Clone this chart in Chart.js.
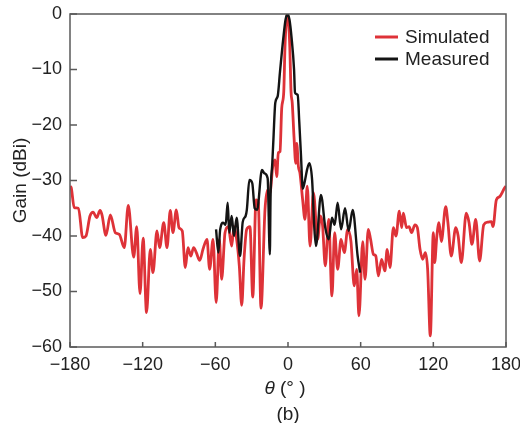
<!DOCTYPE html>
<html>
<head>
<meta charset="utf-8">
<script src="https://cdn.jsdelivr.net/npm/chart.js@4"></script>
<style>
  html, body { margin: 0; padding: 0; background: #fff; }
  #wrap { position: relative; width: 520px; height: 423px; }
</style>
</head>
<body>
<div id="wrap"><canvas id="chart"></canvas></div>
<script>
// angle (deg) and gain (dBi)
const simTheta = [-180, -179, -176.5, -173, -169.5, -166.8, -163.5, -160.8, -158, -155.2, -153.6, -150.3, -146.7, -142.6, -139.3, -135.2, -131.9, -127.4, -124.9, -122.2, -119.6, -116.8, -113.7, -111.5, -108.2, -106, -102.6, -99.9, -97.2, -95, -92.2, -90, -87.3, -84.8, -82.6, -80.3, -77.9, -75.7, -72.9, -70.2, -66.9, -64.7, -61.9, -59.3, -56.7, -54.8, -52, -49.3, -46.5, -44.6, -42.4, -40.2, -38.2, -36.3, -34.1, -31.4, -29.1, -26.4, -24.5, -22.3, -19, -16.8, -14.9, -12.6, -10.7, -9.3, -8, -6.6, -5.2, -3.5, -2.5, -1.5, -0.5, 0.5, 1.5, 2.5, 3.5, 5, 6.4, 7.2, 8.6, 9.9, 12.1, 14, 15.9, 18.2, 21, 24.5, 26.7, 28.5, 30.8, 33.6, 36.3, 38.5, 41, 43.8, 46.5, 49.3, 52, 54.7, 56.7, 58.6, 61.7, 63.6, 66.3, 68.2, 70.5, 72.5, 74.6, 77.3, 80, 81.9, 84.2, 87, 89.2, 91.9, 93.9, 95.2, 97.9, 100, 102, 104.8, 106.8, 109, 111.2, 113.4, 115.3, 117.5, 120, 121.1, 122.9, 124.7, 126.6, 130.2, 132, 134.8, 138.5, 140.5, 143.1, 147.2, 149.5, 151.9, 155, 158.2, 161.6, 165.2, 167.9, 169.3, 172, 174.8, 178.9, 180];
const simGain = [-31, -31.3, -34.9, -35, -40.3, -40, -36.4, -35.7, -36.7, -35.4, -36.2, -39.9, -36.2, -39.4, -39.7, -42.1, -34.5, -43.8, -38.3, -50.4, -40.4, -53.8, -42.4, -46.6, -39.1, -42.1, -37.6, -42.1, -35.4, -39.4, -35.3, -38.5, -39.1, -45.7, -42.1, -43.6, -42.1, -43, -44.4, -42.4, -40.6, -46, -40.6, -52, -40.6, -47.8, -39.4, -38.3, -41.8, -38.3, -40.6, -45.4, -52.5, -44.2, -38.8, -38.3, -51, -33.5, -34, -53, -35.3, -31.7, -32.2, -27.5, -26.3, -29.3, -25, -24.8, -17, -14, -6, -1.5, 0, -1.5, -6, -14, -16, -22.3, -26.9, -23.3, -27.5, -28.7, -33.5, -37, -31, -41.8, -32.2, -40.6, -36.4, -38, -45.4, -37, -50.8, -39.4, -46, -40.6, -43, -38.8, -41, -49, -46, -54.4, -41, -47.8, -38.8, -40.6, -43.3, -43.6, -47.2, -44.2, -46.3, -42.4, -45.7, -38.5, -40, -35.5, -38.5, -35.9, -38.5, -38.3, -39.4, -38, -38.5, -42.4, -44.2, -43, -46, -58, -39.4, -44.8, -40, -37.6, -41, -34.7, -37.5, -43.6, -38.5, -40, -44.8, -35.9, -37.6, -41.5, -37, -44.5, -38, -37.5, -37.4, -38.3, -33.5, -32.9, -31.3, -31];

const measTheta = [-59.4, -57.5, -56, -53.5, -51.5, -49.8, -48.5, -46.5, -44.6, -42.4, -39.6, -37.4, -35, -34, -31.9, -29.5, -27.5, -25.5, -21.5, -19.5, -16.8, -15, -14.4, -13, -12, -10.5, -8.5, -6.6, -3.9, -2, -0.5, 1.2, 3, 5, 5.8, 8, 9.3, 10.7, 12.2, 14, 15.8, 17.6, 19.9, 21.8, 23.1, 27.2, 30.8, 33.6, 36.3, 38.5, 41, 43.8, 47.1, 50.1, 53.4, 57.5, 59.5];
const measGain = [-38.8, -43, -38.8, -37.6, -38, -34, -39.4, -36.4, -40, -36.7, -43.6, -37.5, -36.4, -35.3, -29.9, -30.5, -35, -35.3, -28.1, -28.7, -29.6, -43.3, -33, -27, -22.4, -16, -14.8, -10.4, -4.4, -1, 0, -1, -4.4, -10, -14.2, -14.6, -19.4, -25.4, -31.5, -30, -28, -26.9, -29.9, -38.8, -41.8, -32.6, -38.5, -40.6, -36.7, -38, -34, -38.8, -35, -39.1, -35.3, -43.6, -46.6];

const xTicks = [-180, -120, -60, 0, 60, 120, 180];
const yTicks = [0, -10, -20, -30, -40, -50, -60];
const seriesNames = ['Simulated', 'Measured'];

const FONT = 'Arial, "Liberation Sans", sans-serif';
const RED = '#de3238';
const BLACK = '#141414';
const AXIS = '#5a5a5a';

const toPoints = (xs, ys) => xs.map((x, i) => ({ x: x, y: ys[i] }));
const minus = v => String(v).replace('-', '\u2212');

// frame, inner tick marks, legend and x title
const decor = {
    id: 'decor',
    afterDraw(chart) {
        const ctx = chart.ctx;
        const a = chart.chartArea;
        const xs = chart.scales.x;
        const ys = chart.scales.y;
        ctx.save();
        ctx.strokeStyle = AXIS;
        ctx.lineWidth = 1.5;
        ctx.strokeRect(a.left, a.top, a.right - a.left, a.bottom - a.top);

        ctx.beginPath();
        xTicks.forEach(t => {
            const px = xs.getPixelForValue(t);
            ctx.moveTo(px, a.bottom);
            ctx.lineTo(px, a.bottom - 5);
        });
        yTicks.forEach(t => {
            const py = ys.getPixelForValue(t);
            ctx.moveTo(a.left, py);
            ctx.lineTo(a.left + 7, py);
        });
        ctx.stroke();

        // legend
        const colors = [RED, BLACK];
        ctx.font = '19px ' + FONT;
        ctx.textBaseline = 'middle';
        ctx.textAlign = 'left';
        seriesNames.forEach((name, i) => {
            const y = 37 + i * 22;
            ctx.strokeStyle = colors[i];
            ctx.lineWidth = 3;
            ctx.beginPath();
            ctx.moveTo(375, y);
            ctx.lineTo(398, y);
            ctx.stroke();
            ctx.fillStyle = '#222';
            ctx.fillText(name, 405, y + 1);
        });

        // x title: italic theta + degrees
        const cx = xs.getPixelForValue(0);
        ctx.font = 'italic 19px ' + FONT;
        const w1 = ctx.measureText('\u03b8').width;
        ctx.font = '19px ' + FONT;
        const rest = ' (\u00b0 )';
        const w2 = ctx.measureText(rest).width;
        const x0 = cx - 3 - (w1 + w2) / 2;
        ctx.font = 'italic 19px ' + FONT;
        ctx.fillText('\u03b8', x0, 389);
        ctx.font = '19px ' + FONT;
        ctx.fillText(rest, x0 + w1, 389);

        ctx.textAlign = 'center';
        ctx.font = '19px ' + FONT;
        ctx.fillText('(b)', cx, 415);
        ctx.restore();
    }
};

new Chart(document.getElementById('chart'), {
    type: 'line',
    data: {
        datasets: [{
            label: seriesNames[0],
            data: toPoints(simTheta, simGain),
            borderColor: RED,
            borderWidth: 2.8,
            pointRadius: 0,
            cubicInterpolationMode: 'monotone',
            order: 2
        }, {
            label: seriesNames[1],
            data: toPoints(measTheta, measGain),
            borderColor: BLACK,
            borderWidth: 2.4,
            pointRadius: 0,
            cubicInterpolationMode: 'monotone',
            order: 1
        }]
    },
    options: {
        responsive: true,
        maintainAspectRatio: false,
        animation: false,
        layout: { padding: { top: 14, right: 14, bottom: 0, left: 0 } },
        plugins: { legend: { display: false }, tooltip: { enabled: false } },
        scales: {
            x: {
                type: 'linear',
                min: -180,
                max: 180,
                afterBuildTicks: s => { s.ticks = xTicks.map(v => ({ value: v })); },
                afterFit: s => { s.height = 76; s.paddingLeft = 0; s.paddingRight = 0; },
                grid: { display: false, drawTicks: false },
                border: { display: false },
                ticks: {
                    padding: 7,
                    color: '#222',
                    font: { family: FONT, size: 18 },
                    maxRotation: 0,
                    callback: minus
                }
            },
            y: {
                min: -60,
                max: 0,
                afterBuildTicks: s => { s.ticks = yTicks.map(v => ({ value: v })); },
                afterFit: s => { s.width = 70; s.paddingTop = 0; s.paddingBottom = 0; },
                grid: { display: false, drawTicks: false },
                border: { display: false },
                title: {
                    display: true,
                    text: 'Gain (dBi)',
                    color: '#222',
                    font: { family: FONT, size: 19 },
                    padding: { top: 9, bottom: 0 }
                },
                ticks: {
                    padding: 8,
                    color: '#222',
                    font: { family: FONT, size: 18 },
                    callback: minus
                }
            }
        }
    },
    plugins: [decor]
});
</script>
</body>
</html>
